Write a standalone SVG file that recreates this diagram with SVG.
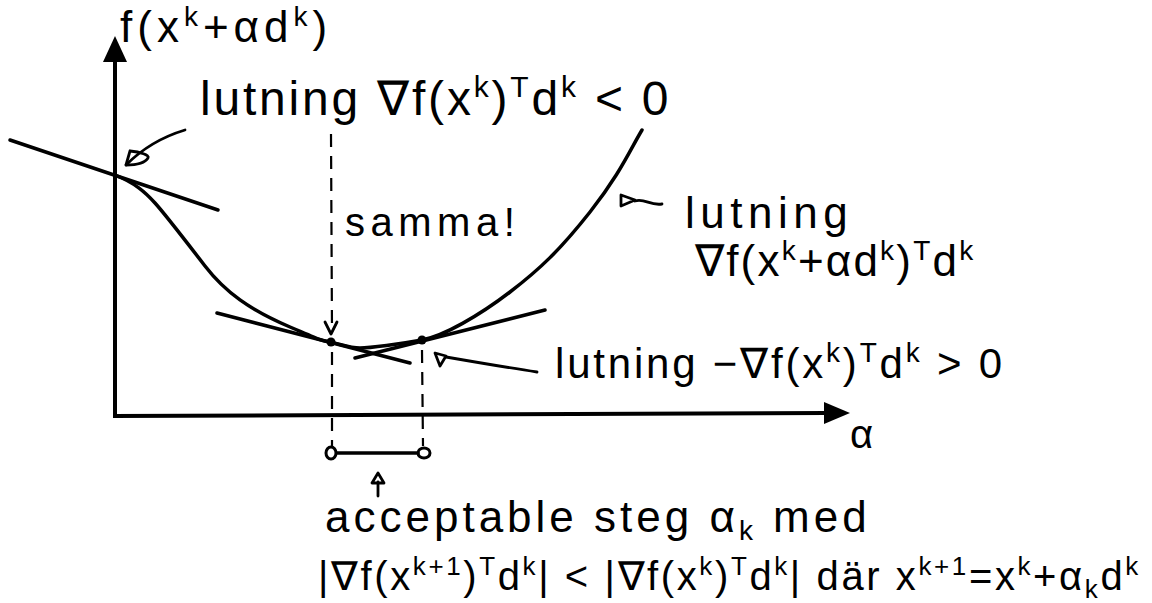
<svg xmlns="http://www.w3.org/2000/svg" width="1152" height="603" viewBox="0 0 1152 603">
<defs>
<style>
.t{font-family:"Liberation Sans","Noto Sans",sans-serif;fill:#000}
.ln{fill:none;stroke:#000;stroke-width:3.5;stroke-linecap:round;stroke-linejoin:round}
.ax{fill:none;stroke:#000;stroke-width:4}
.da{fill:none;stroke:#000;stroke-width:2.2;stroke-dasharray:13 9}
.th{fill:none;stroke:#000;stroke-width:2.8;stroke-linecap:round;stroke-linejoin:round}
</style>
</defs>
<rect width="1152" height="603" fill="#fff"/>
<g id="axes">
<line class="ax" x1="115" y1="418" x2="115" y2="58"/>
<path d="M103,62 L115,36 L127,62 Z" fill="#000"/>
<line class="ax" x1="113" y1="416" x2="826" y2="413"/>
<path d="M824,402 L850,413 L824,424 Z" fill="#000"/>
</g>
<g id="curve">
<path class="ln" d="M115,175 C135,183 145,192 155,203 S185,240 205,266 S250,310 290,327 S320,340 330,342 S350,348 360,348 S400,344 422,340 S480,315 510,292 S560,250 590,212 S630,150 642,130"/>
</g>
<g id="tangents">
<line class="ln" x1="10" y1="140" x2="218" y2="210"/>
<line class="ln" x1="217" y1="313" x2="410" y2="363"/>
<line class="ln" x1="355" y1="358" x2="545" y2="310"/>
<circle cx="331" cy="342" r="4.5" fill="#000"/>
<circle cx="422" cy="340" r="4.5" fill="#000"/>
</g>
<g id="connectors">
<line class="da" x1="331" y1="134" x2="332" y2="332"/>
<path class="th" d="M325,322 L331,334 L337,322"/>
<line class="da" x1="332" y1="352" x2="332" y2="446"/>
<line class="da" x1="422" y1="350" x2="423" y2="446"/>
<ellipse cx="331" cy="453" rx="5" ry="6" fill="#fff" stroke="#000" stroke-width="3"/>
<ellipse cx="424" cy="453" rx="6" ry="5" fill="#fff" stroke="#000" stroke-width="3"/>
<line class="ln" x1="337" y1="453" x2="418" y2="453"/>
<path class="th" d="M185,130 C165,136 145,146 126,165"/>
<path class="th" d="M126,165 L130,151 M130,151 C140,152 150,155 148,158 C145,163 135,165 126,165"/>
<path class="th" d="M537,372 C510,368 475,362 446,357"/>
<path class="th" d="M435,353 L446,356 L440,366 Z"/>
<path class="th" d="M621,195 L621,206 L635,200 Z M635,201 C645,198 650,206 662,204"/>
<path class="th" d="M378,496 L378,482"/>
<path class="th" d="M372,483 L378,473 L384,483 Z" fill="#000"/>
</g>
<g id="labels">
<text class="t" x="120" y="42" font-size="44" letter-spacing="5">f(x<tspan dy="-16" font-size="28">k</tspan><tspan dy="16">+αd</tspan><tspan dy="-16" font-size="28">k</tspan><tspan dy="16">)</tspan></text>
<text class="t" x="200" y="115" font-size="48" letter-spacing="2.8">lutning ∇f(x<tspan dy="-18" font-size="30">k</tspan><tspan dy="18">)</tspan><tspan dy="-18" font-size="30">T</tspan><tspan dy="18">d</tspan><tspan dy="-18" font-size="30">k</tspan><tspan dy="18"> &lt; 0</tspan></text>
<text class="t" x="345" y="236" font-size="40" letter-spacing="5.5">samma!</text>
<text class="t" x="685" y="228" font-size="44" letter-spacing="5.5">lutning</text>
<text class="t" x="695" y="276" font-size="44" letter-spacing="2.2">∇f(x<tspan dy="-16" font-size="28">k</tspan><tspan dy="16">+αd</tspan><tspan dy="-16" font-size="28">k</tspan><tspan dy="16">)</tspan><tspan dy="-16" font-size="28">T</tspan><tspan dy="16">d</tspan><tspan dy="-16" font-size="28">k</tspan></text>
<text class="t" x="555" y="378" font-size="42" letter-spacing="2.8">lutning −∇f(x<tspan dy="-16" font-size="28">k</tspan><tspan dy="16">)</tspan><tspan dy="-16" font-size="28">T</tspan><tspan dy="16">d</tspan><tspan dy="-16" font-size="28">k</tspan><tspan dy="16"> &gt; 0</tspan></text>
<text class="t" x="850" y="448" font-size="40">α</text>
<text class="t" x="325" y="532" font-size="44" letter-spacing="4">acceptable steg α<tspan dy="8" font-size="28">k</tspan><tspan dy="-8"> med</tspan></text>
<text class="t" x="318" y="590" font-size="40" letter-spacing="2.6">|∇f(x<tspan dy="-15" font-size="26">k+1</tspan><tspan dy="15">)</tspan><tspan dy="-15" font-size="26">T</tspan><tspan dy="15">d</tspan><tspan dy="-15" font-size="26">k</tspan><tspan dy="15">| &lt; |∇f(x</tspan><tspan dy="-15" font-size="26">k</tspan><tspan dy="15">)</tspan><tspan dy="-15" font-size="26">T</tspan><tspan dy="15">d</tspan><tspan dy="-15" font-size="26">k</tspan><tspan dy="15">| där x</tspan><tspan dy="-15" font-size="26">k+1</tspan><tspan dy="15">=x</tspan><tspan dy="-15" font-size="26">k</tspan><tspan dy="15">+α</tspan><tspan dy="8" font-size="26">k</tspan><tspan dy="-8">d</tspan><tspan dy="-15" font-size="26">k</tspan></text>
</g>
</svg>
